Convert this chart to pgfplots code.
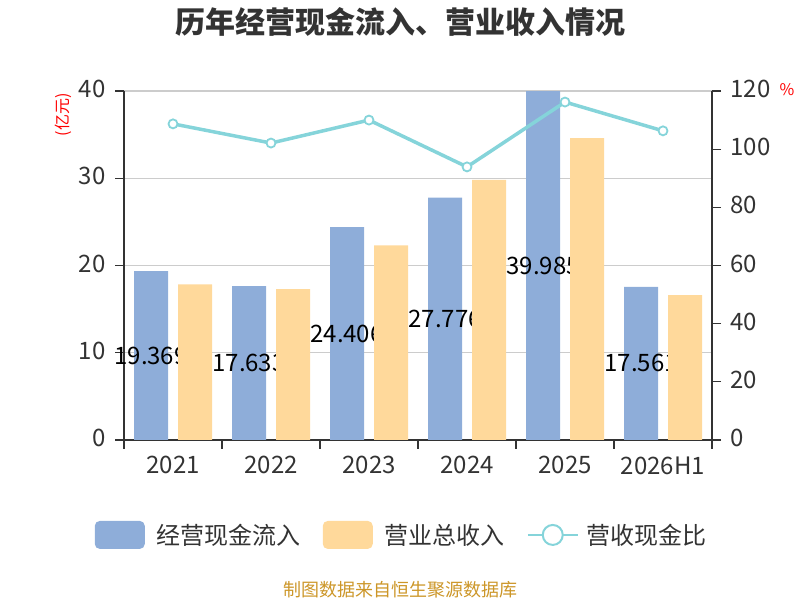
\documentclass[border=0pt]{standalone}
\usepackage{fontspec}
\setmainfont{Noto Sans CJK SC}
\usepackage{pgfplots}
\pgfplotsset{compat=1.18}
\definecolor{cblue}{RGB}{142,173,217}
\definecolor{cyel}{RGB}{255,217,155}
\definecolor{cline}{RGB}{133,212,218}
\definecolor{ctxt}{RGB}{51,51,51}
\definecolor{cgrid}{RGB}{204,204,204}
\definecolor{csrc}{RGB}{204,150,40}
\begin{document}
\begin{tikzpicture}
\path[use as bounding box] (0,0) rectangle (800bp,600bp);
\pgfplotsset{
  base/.style={
    scale only axis, width=588bp, height=349bp,
    at={(124bp,160bp)}, anchor=south west,
    xmin=-0.5, xmax=5.5, ymin=0, clip=false,
    tick label style={font=\fontsize{24bp}{28bp}\selectfont, color=ctxt},
    /pgf/number format/assume math mode=true,
    axis line style={color=ctxt, line width=1.3bp},
    major tick style={color=ctxt, line width=1.3bp},
    major tick length=9bp, tick align=outside,
  }
}
\begin{axis}[base, ymax=40, ytick={0,10,20,30,40},
  axis x line*=bottom, axis y line*=left,
  ymajorgrids, grid style={color=cgrid, line width=1.2bp},
  xtick={-0.5,0.5,1.5,2.5,3.5,4.5,5.5}, xticklabels={{},{},{},{},{},{},{}},
  extra x ticks={0,1,2,3,4,5},
  extra x tick labels={2021,2022,2023,2024,2025,2026H1},
  extra x tick style={major tick length=0pt, grid=none, xticklabel style={yshift=-13bp}},
  yticklabel style={xshift=-6bp, yshift=2bp},
  ]
\addplot[ybar, bar width=34bp, bar shift=-22bp, fill=cblue, draw=none,
  visualization depends on={y \as \rawy},
  nodes near coords={\pgfmathprintnumber[fixed,precision=3,zerofill]{\pgfplotspointmeta}},
  every node near coord/.append style={anchor=center, xshift=-22bp, yshift=-\rawy*4.3625bp, font=\fontsize{24bp}{28bp}\selectfont, text=black}]
  coordinates {(0,19.369) (1,17.633) (2,24.406) (3,27.776) (4,39.985) (5,17.561)};
\end{axis}
\begin{axis}[base, ymax=40, hide axis]
\addplot[ybar, bar width=34bp, bar shift=22bp, fill=cyel, draw=none]
  coordinates {(0,17.85) (1,17.28) (2,22.30) (3,29.80) (4,34.60) (5,16.60)};
\end{axis}
\begin{axis}[base, ymax=120, ytick={0,20,40,60,80,100,120},
  axis y line*=right, axis x line=none,
  yticklabel style={xshift=6bp, yshift=2bp},
  legend style={at={(0.4724,-0.272)}, anchor=center, draw=none, fill=none,
    font=\fontsize{24bp}{28bp}\selectfont, text=ctxt,
    /tikz/every even column/.append style={column sep=20bp}},
  legend columns=3, legend cell align=left,
  ]
\addlegendimage{legend image code/.code={\fill[cblue, draw=none, rounded corners=5bp] (0bp,-14bp) rectangle (50bp,14bp); \path[draw=none, fill=none] (0bp,0bp) -- (60bp,0bp);}}
\addlegendentry{经营现金流入}
\addlegendimage{legend image code/.code={\fill[cyel, draw=none, rounded corners=5bp] (0bp,-14bp) rectangle (50bp,14bp); \path[draw=none, fill=none] (0bp,0bp) -- (60bp,0bp);}}
\addlegendentry{营业总收入}
\addplot[cline, line width=3.5bp, mark=*, mark size=4.5bp,
  mark options={fill=white, draw=cline, line width=1.8bp},
  legend image code/.code={\draw[cline, line width=2bp] (0bp,0bp) -- (50bp,0bp);
     \draw[cline, fill=white, line width=2bp] (25bp,0bp) circle (10bp); \path[draw=none, fill=none] (0bp,0bp) -- (57bp,0bp);}]
  coordinates {(0,108.7) (1,102.1) (2,110.0) (3,93.9) (4,116.2) (5,106.3)};
\addlegendentry{营收现金比}
\end{axis}
\node[font=\bfseries\fontsize{30bp}{34bp}\selectfont, text=ctxt] at (400bp,578bp) {历年经营现金流入、营业收入情况};
\node[rotate=90, font=\fontsize{16bp}{18bp}\selectfont, text=red] at (63bp,485bp) {(亿元)};
\node[font=\fontsize{16bp}{18bp}\selectfont, text=red] at (787bp,510bp) {\%};
\node[font=\fontsize{18bp}{20bp}\selectfont, text=csrc] at (400bp,10bp) {制图数据来自恒生聚源数据库};
\end{tikzpicture}
\end{document}
